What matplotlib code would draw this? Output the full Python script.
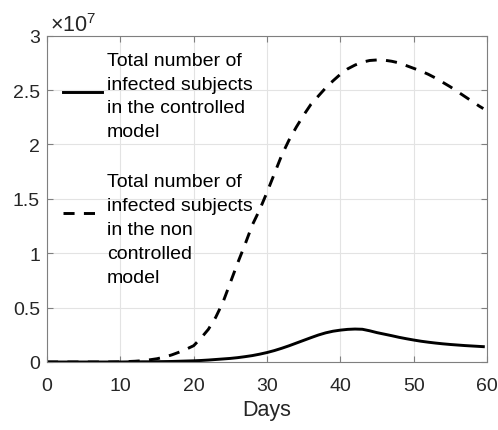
import matplotlib
matplotlib.use("Agg")
import matplotlib.pyplot as plt
import numpy as np
from matplotlib.legend_handler import HandlerLine2D
from matplotlib.ticker import FuncFormatter, MultipleLocator

plt.rcParams['font.family'] = ['Liberation Sans', 'DejaVu Sans']
plt.rcParams['mathtext.fontset'] = 'custom'
plt.rcParams['mathtext.rm'] = 'Liberation Sans'
plt.rcParams['mathtext.it'] = 'Liberation Sans:italic'

# Simulation time (days)
days = list(range(0, 60)) + [59.5]

# Total infected, controlled model (units of 1e7)
controlled = [0.000, 0.000, 0.000, 0.000, 0.000, 0.000, 0.000, 0.000, 0.000, 0.000,
              0.000, 0.001, 0.001, 0.002, 0.002, 0.003, 0.004, 0.005, 0.007, 0.009,
              0.011, 0.014, 0.018, 0.023, 0.028, 0.033, 0.040, 0.049, 0.059, 0.072,
              0.087, 0.105, 0.126, 0.149, 0.174, 0.199, 0.224, 0.248, 0.268, 0.283,
              0.293, 0.300, 0.303, 0.301, 0.287, 0.270, 0.256, 0.242, 0.227, 0.214,
              0.202, 0.191, 0.182, 0.174, 0.167, 0.161, 0.156, 0.151, 0.147, 0.143,
              0.141]

# Total infected, non controlled model (units of 1e7)
non_controlled = [0.000, 0.000, 0.000, 0.000, 0.000, 0.000, 0.000, 0.000, 0.000, 0.001,
                  0.002, 0.004, 0.007, 0.012, 0.020, 0.030, 0.045, 0.065, 0.090, 0.118,
                  0.150, 0.220, 0.300, 0.410, 0.550, 0.730, 0.910, 1.080, 1.260, 1.400,
                  1.560, 1.730, 1.900, 2.040, 2.160, 2.270, 2.370, 2.445, 2.520, 2.585,
                  2.645, 2.695, 2.730, 2.757, 2.772, 2.777, 2.775, 2.765, 2.750, 2.725,
                  2.700, 2.675, 2.645, 2.610, 2.570, 2.530, 2.485, 2.440, 2.395, 2.350,
                  2.330]

scale = 1e7
label_ctrl = "Total number of\ninfected subjects\nin the controlled\nmodel"
label_nonctrl = "Total number of\ninfected subjects\nin the non\ncontrolled\nmodel"

axis_gray = '#262626'
spine_gray = '#7f7f7f'


class TopAnchoredLine(HandlerLine2D):
    """Legend line kept a fixed distance below the first text line of its entry."""

    def __init__(self, line_step_pts, below_first_pts, **kw):
        super().__init__(**kw)
        self.line_step_pts = line_step_pts
        self.below_first_pts = below_first_pts

    def create_artists(self, legend, orig_handle, xdescent, ydescent,
                       width, height, fontsize, trans):
        artists = super().create_artists(legend, orig_handle, xdescent, ydescent,
                                         width, height, fontsize, trans)
        n_lines = orig_handle.get_label().count("\n") + 1
        centre = (height - ydescent) / 2
        y = centre + (n_lines - 1) / 2 * self.line_step_pts - self.below_first_pts
        for a in artists:
            a.set_ydata(np.full_like(np.asarray(a.get_xdata(), float), y))
        return artists


fig = plt.figure(figsize=(4.98, 4.31), dpi=100)
ax = fig.add_axes([47 / 498, (431 - 363) / 431, 440 / 498, (363 - 36.7) / 431])

l1, = ax.plot(days, [v * scale for v in controlled], color='black', lw=2.1,
              label=label_ctrl, solid_joinstyle='round')
l2, = ax.plot(days, [v * scale for v in non_controlled], color='black', lw=2.1,
              linestyle=(0, (3.8, 3.2)), label=label_nonctrl)

ax.set_xlim(0, 60)
ax.set_ylim(0, 3e7)
ax.xaxis.set_major_locator(MultipleLocator(10))
ax.yaxis.set_major_locator(MultipleLocator(0.5e7))
ax.yaxis.set_major_formatter(FuncFormatter(lambda v, p: f"{v / scale:g}"))

ax.grid(True, color='#e3e3e3', lw=0.8)
ax.set_axisbelow(True)
for s in ax.spines.values():
    s.set_color(spine_gray)
    s.set_linewidth(0.8)
ax.tick_params(direction='in', length=4, width=0.8, color=spine_gray,
               labelcolor=axis_gray, labelsize=14, top=True, right=True)
ax.tick_params(axis='x', pad=11)
ax.tick_params(axis='y', pad=5)

ax.set_xlabel("Days", fontsize=15.5, color=axis_gray, labelpad=3.5)
ax.text(0.007, 1.0, r"$\times10^{7}$", transform=ax.transAxes, fontsize=15.5,
        color=axis_gray, ha='left', va='bottom')

handler = TopAnchoredLine(17.3, 23.0)
leg = ax.legend(handles=[l1, l2], loc='upper left', bbox_to_anchor=(0.0186, 0.975),
                frameon=False, fontsize=14, handlelength=2.0, handletextpad=0.26,
                labelspacing=1.7, borderaxespad=0,
                handler_map={l1: handler, l2: handler})
for t in leg.get_texts():
    t.set_linespacing(1.53)
    t.set_color('black')

fig.savefig("out.png", dpi=100)
